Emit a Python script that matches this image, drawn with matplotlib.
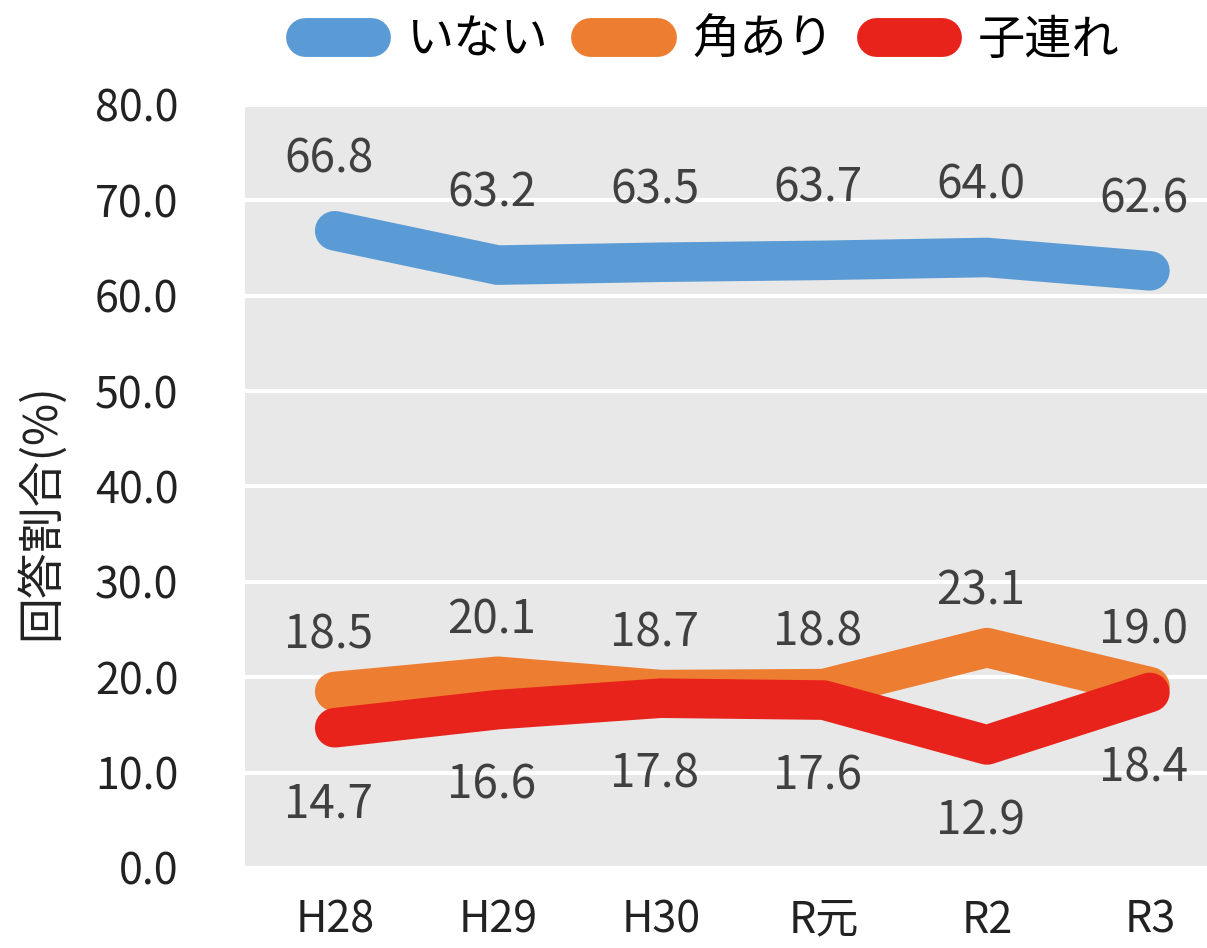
import matplotlib
matplotlib.use("Agg")
import matplotlib.pyplot as plt

plt.rcParams['font.family'] = ['Noto Sans CJK JP', 'DejaVu Sans']

years = ['H28', 'H29', 'H30', 'R元', 'R2', 'R3']
inai = [66.8, 63.2, 63.5, 63.7, 64.0, 62.6]
tsuno = [18.5, 20.1, 18.7, 18.8, 23.1, 19.0]
kozure = [14.7, 16.6, 17.8, 17.6, 12.9, 18.4]

series = [
    ('いない', inai, '#5b9bd5', 72),
    ('角あり', tsuno, '#ed7d31', 56),
    ('子連れ', kozure, '#e8231b', -76),
]

fig = plt.figure(figsize=(12.07, 9.48), dpi=100)
ax = fig.add_axes([0.203, 0.0844, 0.797, 0.805])
ax.set_facecolor('#e8e8e8')

x = list(range(len(years)))
handles = []
for name, vals, col, off in series:
    ln, = ax.plot(x, vals, color=col, lw=28.5, solid_capstyle='round',
                  solid_joinstyle='round', label=name, zorder=3)
    handles.append(ln)
    for xi, v in zip(x, vals):
        ax.annotate(f'{v:.1f}', (xi, v), xytext=(-6, off), textcoords='offset pixels',
                    ha='center', va='center', fontsize=33, color='#404040', zorder=4)

ax.set_xlim(-0.55, 5.35)
ax.set_ylim(0, 80)
ax.set_yticks(range(0, 81, 10))
ax.set_yticklabels([f'{t:.1f}' for t in range(0, 81, 10)])
ax.set_xticks(x)
ax.set_xticklabels(years)
ax.grid(axis='y', color='white', lw=3, zorder=1)
ax.set_axisbelow(True)
for s in ax.spines.values():
    s.set_visible(False)
ax.tick_params(axis='both', length=0, labelsize=31, colors='#222222')
ax.tick_params(axis='y', pad=48)
ax.tick_params(axis='x', pad=22)

fig.text(0.034, 0.46, '回答割合(%)', rotation=90, ha='center', va='center',
         fontsize=33, color='#222222')

leg = fig.legend(handles=handles, loc='center', bbox_to_anchor=(0.59, 0.957), ncol=3,
                 frameon=False, fontsize=34, handlelength=1.4, handletextpad=0.75,
                 columnspacing=0.9)
for h in leg.get_lines():
    h.set_linewidth(28)

fig.savefig('out.png', dpi=100)
